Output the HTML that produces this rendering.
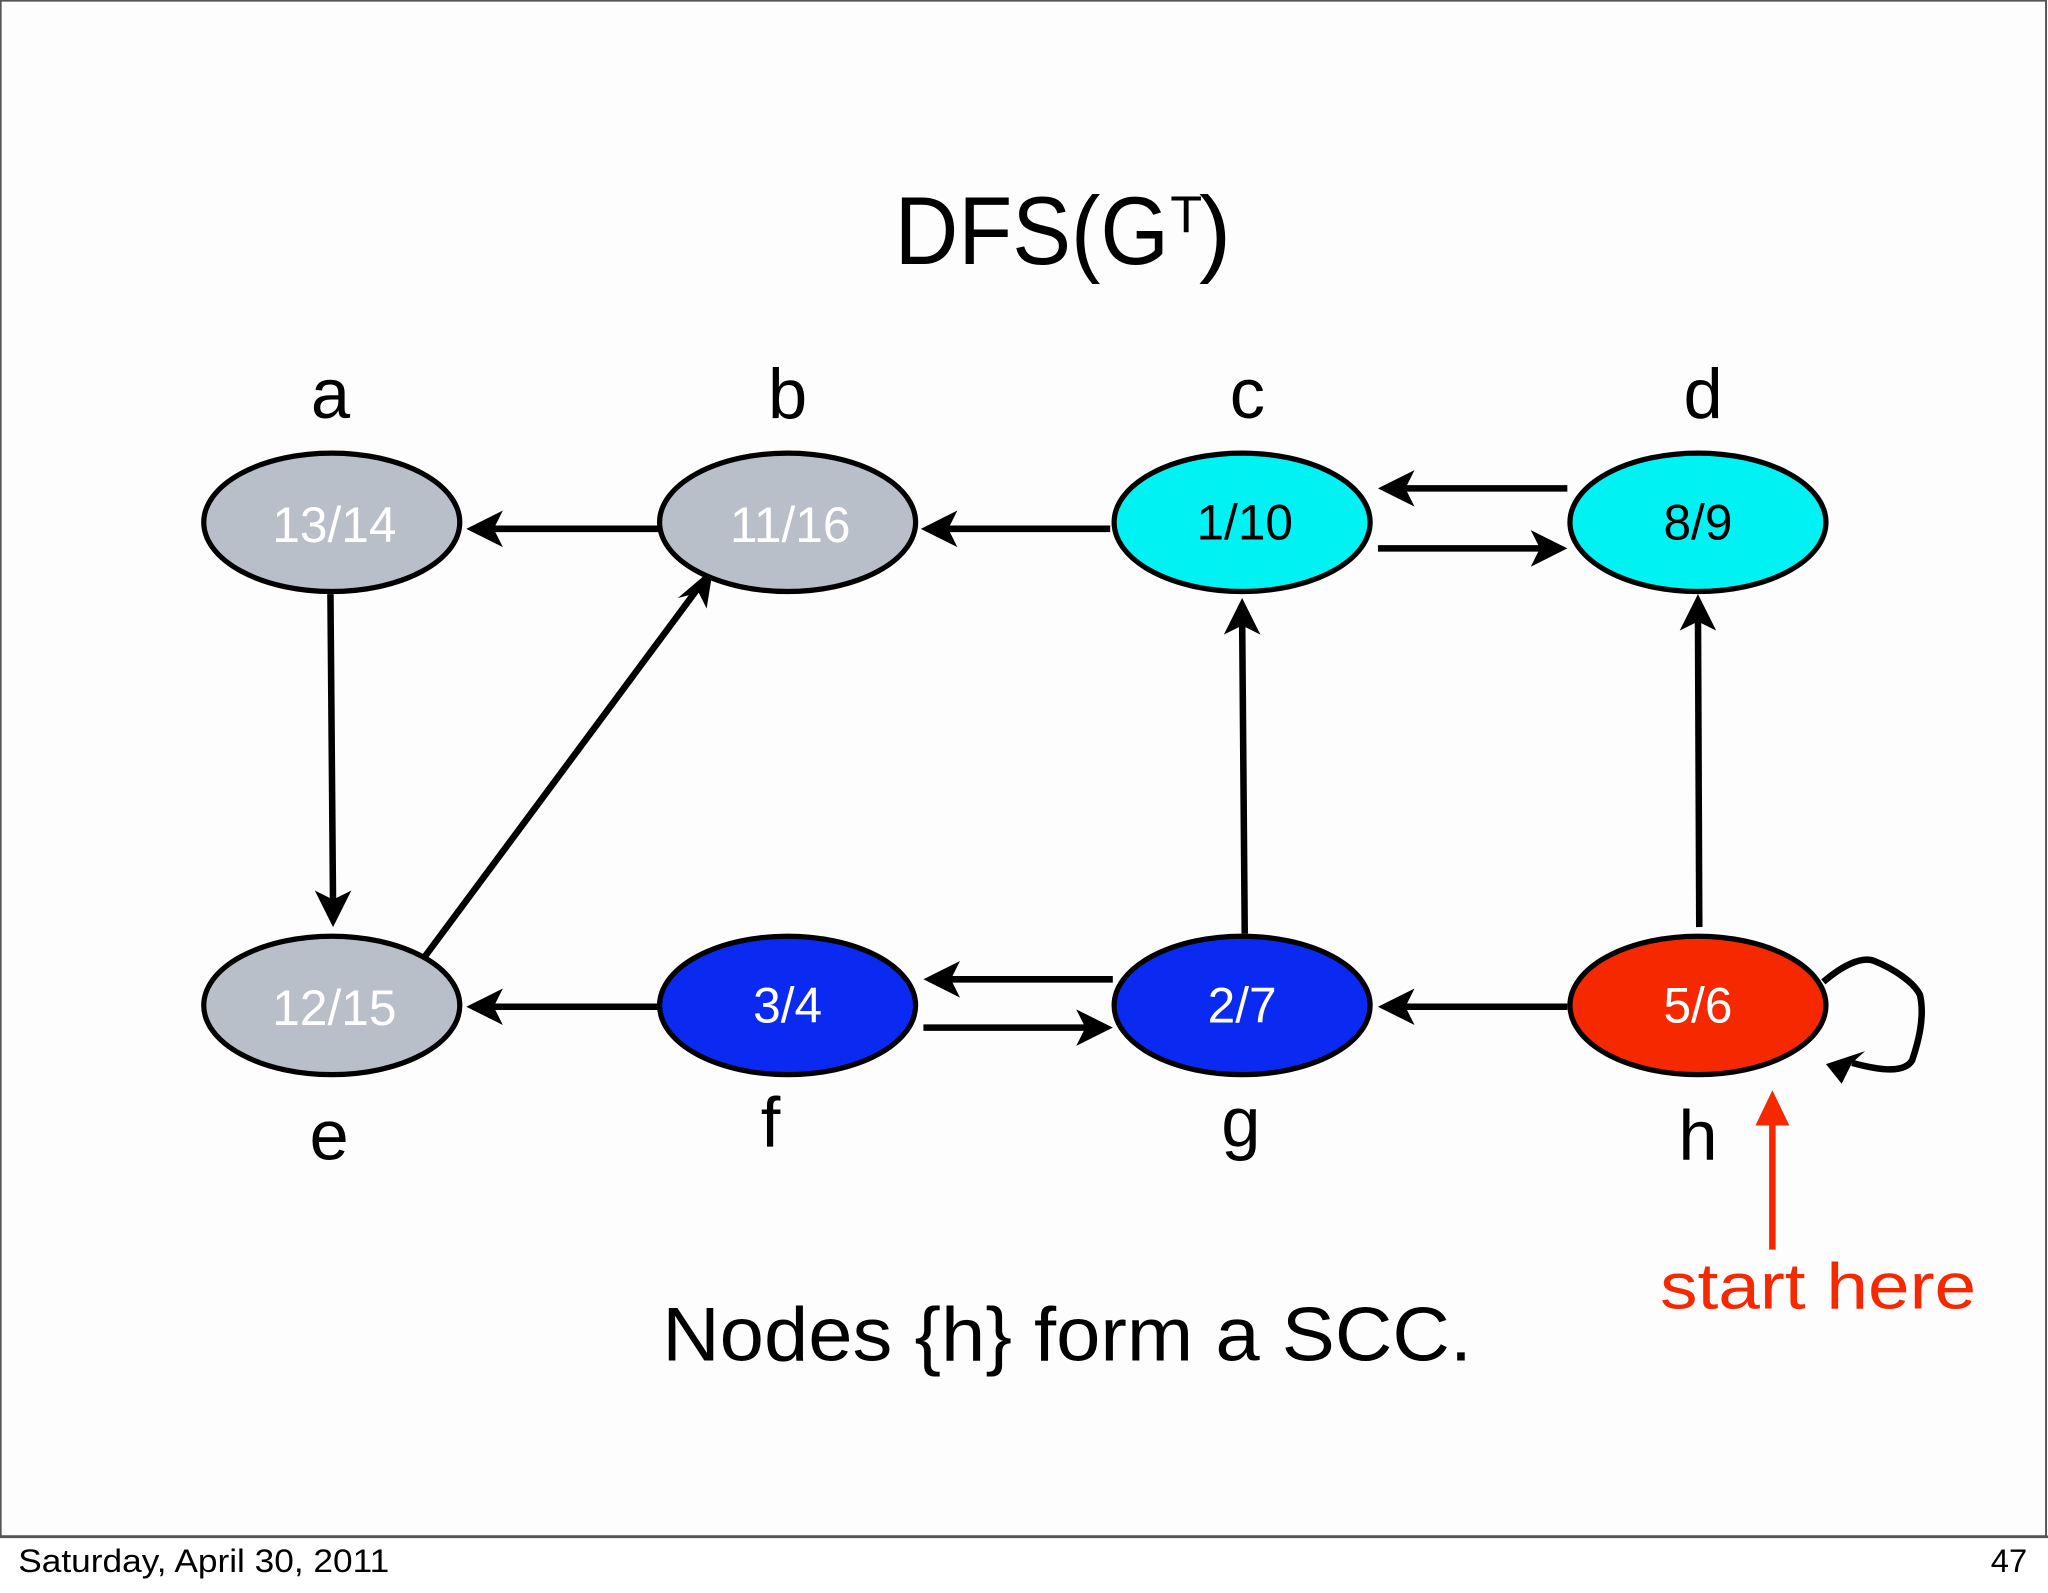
<!DOCTYPE html>
<html><head><meta charset="utf-8"><style>
html,body{margin:0;padding:0;background:#fff;}
svg{display:block;}
</style></head><body>
<svg width="2048" height="1593" viewBox="0 0 1568 1220" preserveAspectRatio="none" xmlns="http://www.w3.org/2000/svg" font-family="Liberation Sans, DejaVu Sans, sans-serif">
<defs>
<marker id="ah" viewBox="0 0 10 10" refX="9" refY="5" markerWidth="6.5" markerHeight="6.5" orient="auto" markerUnits="userSpaceOnUse" style="overflow:visible">
</marker>
</defs>
<rect x="0" y="0" width="1568" height="1220" fill="#ffffff"/>
<rect x="0.5" y="0.5" width="1566" height="1176" fill="#fdfdfd" stroke="#555" stroke-width="1.5"/>
<line x1="0" y1="1177" x2="1568" y2="1177" stroke="#555" stroke-width="2"/>

<text x="784" y="88" font-size="0"> </text>
<text x="685" y="202" font-size="74" textLength="210" lengthAdjust="spacingAndGlyphs">DFS(G</text>
<text x="896" y="178" font-size="40">T</text>
<text x="918" y="202" font-size="74">)</text>

<g font-size="54" fill="#000" text-anchor="middle">
<text x="253" y="320">a</text>
<text x="603" y="320">b</text>
<text x="955" y="320">c</text>
<text x="1304" y="320">d</text>
<text x="252" y="888">e</text>
<text x="590" y="878">f</text>
<text x="950" y="878">g</text>
<text x="1300" y="888">h</text>
</g>

<g stroke="#000" stroke-width="5" fill="none">
<line x1="505" y1="405" x2="372" y2="405"/>
<line x1="850" y1="405" x2="720" y2="405"/>
<line x1="1200" y1="374" x2="1070" y2="374"/>
<line x1="1055" y1="420" x2="1185" y2="420"/>
<line x1="253" y1="455" x2="255" y2="695"/>
<line x1="325" y1="733" x2="537" y2="447"/>
<line x1="505" y1="771" x2="372" y2="771"/>
<line x1="852" y1="750" x2="722" y2="750"/>
<line x1="707" y1="787" x2="837" y2="787"/>
<line x1="1200" y1="771" x2="1070" y2="771"/>
<line x1="953" y1="715" x2="951" y2="472"/>
<line x1="1301" y1="710" x2="1300" y2="468"/>
<path d="M1396,752 C1410,740 1425,732 1435,736 C1450,742 1465,752 1470,762 C1474,780 1468,800 1464,812 C1458,822 1440,820 1418,814"/>
</g>
<g fill="#000">
<polygon points="357,405 385,391 378,405 385,419"/>
<polygon points="705,405 733,391 726,405 733,419"/>
<polygon points="1055,374 1083,360 1076,374 1083,388"/>
<polygon points="1200,420 1172,406 1179,420 1172,434"/>
<polygon points="255,710 241,682 255,689 269,682"/>
<polygon points="546,435 541,466 535,454 519,458"/>
<polygon points="357,771 385,757 378,771 385,785"/>
<polygon points="707,750 735,736 728,750 735,764"/>
<polygon points="852,787 824,773 831,787 824,801"/>
<polygon points="1055,771 1083,757 1076,771 1083,785"/>
<polygon points="951,458 937,486 951,479 965,486"/>
<polygon points="1300,455 1286,483 1300,476 1314,483"/>
<polygon points="1398,815 1428,805 1418,814 1410,830"/>
</g>

<g stroke="#000" stroke-width="4">
<ellipse cx="254" cy="400" rx="98" ry="53" fill="#b9bfc9"/>
<ellipse cx="603" cy="400" rx="98" ry="53" fill="#b9bfc9"/>
<ellipse cx="951" cy="400" rx="98" ry="53" fill="#00f2f2"/>
<ellipse cx="1300" cy="400" rx="98" ry="53" fill="#00f2f2"/>
<ellipse cx="254" cy="770" rx="98" ry="53" fill="#b9bfc9"/>
<ellipse cx="603" cy="770" rx="98" ry="53" fill="#0a2af2"/>
<ellipse cx="951" cy="770" rx="98" ry="53" fill="#0a2af2"/>
<ellipse cx="1300" cy="770" rx="98" ry="53" fill="#f52800"/>
</g>
<g font-size="38" text-anchor="middle">
<text x="256" y="415" fill="#fff">13/14</text>
<text x="605" y="415" fill="#fff">11/16</text>
<text x="953" y="413" fill="#000">1/10</text>
<text x="1300" y="413" fill="#000">8/9</text>
<text x="256" y="785" fill="#fff">12/15</text>
<text x="603" y="783" fill="#fff">3/4</text>
<text x="951" y="783" fill="#fff">2/7</text>
<text x="1300" y="783" fill="#fff">5/6</text>
</g>

<line x1="1357" y1="957" x2="1357" y2="860" stroke="#f52800" stroke-width="5"/>
<polygon points="1357,835 1344,862 1370,862" fill="#f52800"/>
<text x="1271" y="1002" font-size="50" fill="#f52800" textLength="242" lengthAdjust="spacingAndGlyphs">start here</text>

<text x="507" y="1042" font-size="58" fill="#000" textLength="620" lengthAdjust="spacingAndGlyphs">Nodes {h} form a SCC.</text>

<text x="14" y="1204" font-size="25" fill="#000" textLength="284" lengthAdjust="spacingAndGlyphs">Saturday, April 30, 2011</text>
<text x="1552" y="1204" font-size="25" fill="#000" text-anchor="end">47</text>
</svg>
</body></html>
